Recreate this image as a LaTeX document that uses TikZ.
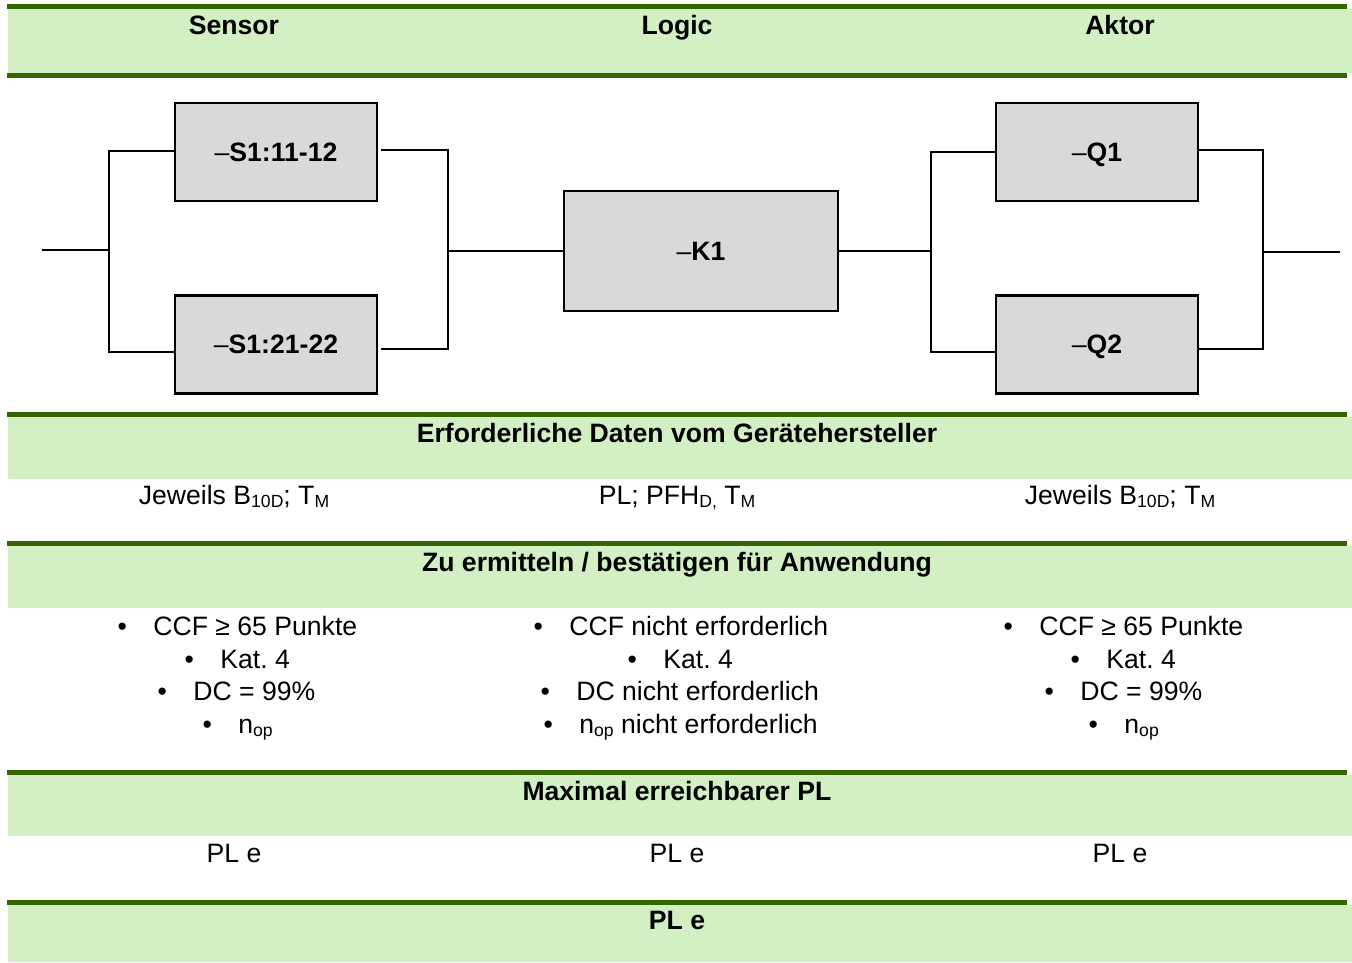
\documentclass[tikz,border=0pt]{standalone}
\usepackage{fontspec}
\setmainfont{Liberation Sans}
\frenchspacing
\definecolor{bandgreen}{RGB}{211,240,197}
\definecolor{stripegreen}{RGB}{51,102,0}
\definecolor{boxgray}{RGB}{217,217,217}
% lowered, smaller subscript as used in the data lines
\newcommand\lowsub[1]{\raisebox{-0.12em}{\fontsize{8.8pt}{10pt}\selectfont #1}}
% thin dash in front of the device tags
\newcommand\tagdash{{\mdseries\textendash}}
\begin{document}
\begin{tikzpicture}[x=0.5pt,y=-0.5pt,
  every node/.style={font=\fontsize{13.3pt}{16pt}\selectfont, inner sep=0pt},
  hdr/.style={font=\fontsize{13.3pt}{16pt}\selectfont\bfseries, anchor=base},
  txt/.style={anchor=base},
  item/.style={anchor=base west},
  blk/.style={draw=black, line width=1.1pt, fill=boxgray,
    minimum width=101pt, minimum height=49pt,
    text height=9.2pt, text depth=0pt,
    font=\fontsize{13.3pt}{16pt}\selectfont\bfseries},
  wire/.style={line width=0.9pt},
  band/.style={fill=bandgreen},
  stripe/.style={fill=stripegreen}]
\useasboundingbox (0,0) rectangle (1352,962);

% coloured header bands
\fill[band] (8,9) rectangle (1352,73);
\fill[stripe] (7,4) rectangle (1347,9);
\fill[stripe] (7,73) rectangle (1347,78);
\fill[band] (8,417) rectangle (1352,479);
\fill[stripe] (7,412) rectangle (1347,417);
\fill[band] (8,546) rectangle (1352,608);
\fill[stripe] (7,541) rectangle (1347,546);
\fill[band] (8,775) rectangle (1352,836);
\fill[stripe] (7,770) rectangle (1347,775);
\fill[band] (8,905) rectangle (1352,962);
\fill[stripe] (7,900) rectangle (1347,905);

% column headings
\node[hdr] (hs) at (234,35) {Sensor};
\node[hdr] (hl) at (677,35) {Logic};
\node[hdr] (ha) at (1120,35) {Aktor};

% function blocks
\node[blk] (s1) at (276,152) {\tagdash S1:11-12};
\node[blk] (s2) at (276,344.5) {\tagdash S1:21-22};
\node[blk, minimum width=137pt, minimum height=60pt] (k1) at (701,251) {\tagdash K1};
\node[blk] (q1) at (1097,152) {\tagdash Q1};
\node[blk] (q2) at (1097,344.5) {\tagdash Q2};

% wiring
\coordinate (inL) at (42,250);
\coordinate (jl) at (109,250);
\coordinate (jr) at (448,251);
\coordinate (jq) at (931,251);
\coordinate (jo) at (1263,252);
\coordinate (outR) at (1340,252);
\draw[wire] (inL) -- (jl);
\draw[wire] ([yshift=0.5pt]s1.west) -| (jl) |- ([yshift=-3.75pt]s2.west);
\draw[wire] ([xshift=1.5pt,yshift=1pt]s1.east) -| (jr) |- ([xshift=1.5pt,yshift=-2.25pt]s2.east);
\draw[wire] (jr) -- (k1.west);
\draw[wire] (k1.east) -- (jq);
\draw[wire] ([yshift=0pt]q1.west) -| (jq) |- ([yshift=-3.75pt]q2.west);
\draw[wire] ([yshift=1pt]q1.east) -| (jo) |- ([yshift=-2.25pt]q2.east);
\draw[wire] (jo) -- (outR);

% required manufacturer data
\node[hdr] (hd) at (677,442) {Erforderliche Daten vom Gerätehersteller};
\node[txt] (ds) at (234,504) {Jeweils B\lowsub{10D}; T\lowsub{M}};
\node[txt] (dl) at (677,504) {PL; PFH\lowsub{D,} T\lowsub{M}};
\node[txt] (da) at (1120,504) {Jeweils B\lowsub{10D}; T\lowsub{M}};

% to be determined for the application
\node[hdr] (hz) at (677,571) {Zu ermitteln / bestätigen für Anwendung};
\newcommand\bl{\makebox[18.5pt][l]{\hspace{0.6pt}\textbullet}}
\node[item] (sa) at (116,635.5) {\bl CCF ≥ 65 Punkte};
\node[item] (sb) at (183,668) {\bl Kat. 4};
\node[item] (sc) at (156,700.5) {\bl DC = 99\%};
\node[item] (sd) at (201,733) {\bl n\lowsub{op}};
\node[item] (la) at (532,635.5) {\bl CCF nicht erforderlich};
\node[item] (lb) at (626,668) {\bl Kat. 4};
\node[item] (lc) at (539,700.5) {\bl DC nicht erforderlich};
\node[item] (ld) at (542,733) {\bl n\lowsub{op} nicht erforderlich};
\node[item] (aa) at (1002,635.5) {\bl CCF ≥ 65 Punkte};
\node[item] (ab) at (1069,668) {\bl Kat. 4};
\node[item] (ac) at (1043,700.5) {\bl DC = 99\%};
\node[item] (ad) at (1087,733) {\bl n\lowsub{op}};

% achievable performance level
\node[hdr] (hm) at (677,800) {Maximal erreichbarer PL};
\node[txt] (ps) at (234,862) {PL e};
\node[txt] (pl) at (677,862) {PL e};
\node[txt] (pa) at (1120,862) {PL e};
\node[hdr] (pt) at (677,929) {PL e};
\end{tikzpicture}
\end{document}
